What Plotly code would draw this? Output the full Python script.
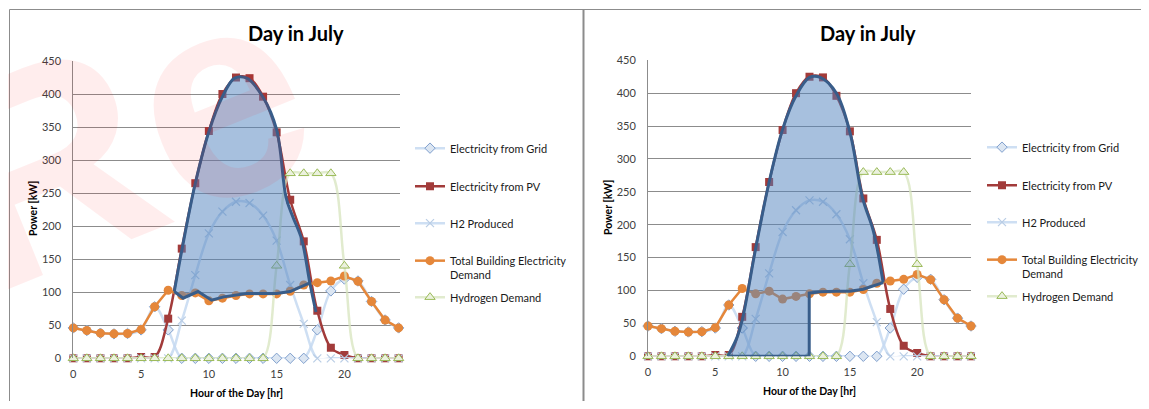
import plotly.graph_objects as go

# page is 1149x409; the browser body adds an 8px margin, so the figure is 1133x393
PAGE_W, PAGE_H, BODY = 1149, 409, 8
W, H = PAGE_W - 2 * BODY, PAGE_H - 2 * BODY


def px(xp):
    return (xp - BODY) / W


def py(yp):
    return 1 - (yp - BODY) / H


# ---------------- data ----------------
hours = list(range(25))
electricity_from_grid = [46, 42, 38, 37, 37.5, 43, 78, 43, 0, 0, 0, 0, 0, 0, 0, 0, 0, 0,
                         43, 102, 120, 117, 86, 58, 46]
electricity_from_pv = [0, 0, 0, 0, 0, 2, 2, 60, 166, 265, 344, 400, 425, 424, 396, 342, 240,
                       177, 72, 16, 5, 0, 0, 0, 0]
h2_produced = [0, 0, 0, 0, 0, 0, 0, 0, 57, 126, 189, 222, 237, 235, 216, 178, 111, 52,
               0, 0, 0, 0, 0, 0, 0]
building_demand = [46, 42, 38, 37, 37.5, 43.5, 78, 103, 95, 99, 87, 91, 95, 97.5, 97.5, 97.5,
                   101.5, 111, 114.5, 117, 124.5, 116.5, 86, 58, 46]
hydrogen_demand = [0, 0, 0, 0, 0, 0, 0, 0, 0, 0, 0, 0, 0, 0, 0, 140, 280, 280, 280, 280, 140,
                   0, 0, 0, 0]

series_names = ["Electricity from Grid", "Electricity from PV", "H2 Produced",
                "Total Building Electricity<br>Demand", "Hydrogen Demand"]

x_tick_vals = [0, 5, 10, 15, 20]
y_tick_vals = [0, 50, 100, 150, 200, 250, 300, 350, 400, 450]

chart_title = "Day in July"
x_title = "Hour of the Day [hr]"
y_title = "Power [kW]"

# shaded PV-surplus outline, left chart
surplus_left_upper_x = [7.45, 8, 9, 10, 11, 11.9, 12.8, 14, 15, 15.7, 16.2, 16.85, 17.45, 17.9]
surplus_left_upper_y = [101, 163, 265, 343, 396, 424, 424, 395, 346, 243, 214, 180, 114, 70]
surplus_left_lower_x = [7.45, 8.1, 9.2, 10.2, 11.1, 12.8, 15.0, 16.0, 17.45]
surplus_left_lower_y = [101, 91, 101, 88, 93, 98, 98, 101, 114]

# shaded outline, right chart
surplus_right_upper_x = [5.92, 6.6, 7.0, 8, 9, 10, 11, 12, 12.8, 14, 15, 15.95, 16.75, 17.47]
surplus_right_upper_y = [0, 28, 55, 164, 265, 345, 396, 424, 424, 400, 341, 240, 190, 112]
surplus_right_lower_x = [5.92, 11.98, 11.98, 12.8, 14, 15, 16, 17.47]
surplus_right_lower_y = [0, 0, 96, 98, 99, 99, 102, 112]

# ---------------- styles ----------------
FONT = "Lato"
series_values = [electricity_from_grid, electricity_from_pv, h2_produced,
                 building_demand, hydrogen_demand]
series_style = [
    dict(line=dict(color="rgba(198,217,241,0.85)", width=2.5, shape="spline"),
         marker=dict(symbol="diamond", size=8, color="#DCE6F2",
                     line=dict(color="#7F9FCD", width=1))),
    dict(line=dict(color="#A23B3A", width=2.5, shape="spline"),
         marker=dict(symbol="square", size=8, color="#A23B3A")),
    dict(line=dict(color="rgba(198,217,241,0.85)", width=2.5, shape="spline"),
         marker=dict(symbol="x-thin", size=8, color="#B9CDE5",
                     line=dict(color="#B9CDE5", width=1.2))),
    dict(line=dict(color="#E5873A", width=2.5),
         marker=dict(symbol="circle", size=9, color="#E5873A")),
    dict(line=dict(color="rgba(215,228,189,0.75)", width=2.5, shape="spline"),
         marker=dict(symbol="triangle-up", size=9, color="#EBF1DE",
                     line=dict(color="#9BBB59", width=1))),
]

panels = [
    dict(xa="x", ya="y", xdom=(73.3, 400.0), ydom=(61.0, 358.3), xrange=[0, 24.1],
         upper=(surplus_left_upper_x, surplus_left_upper_y),
         lower=(surplus_left_lower_x, surplus_left_lower_y),
         legends=["legend", "legend2", "legend3", "legend4", "legend5"],
         text_x=450, leg_y=[149, 187, 224, 268, 298],
         title_c=296, ytitle_x=33, ytitle_y=209, xtitle_x=236, xtitle_y=393),
    dict(xa="x2", ya="y2", xdom=(648.0, 971.0), ydom=(60.3, 356.3), xrange=[0, 24.0],
         upper=(surplus_right_upper_x, surplus_right_upper_y),
         lower=(surplus_right_lower_x, surplus_right_lower_y),
         legends=["legend6", "legend7", "legend8", "legend9", "legend10"],
         text_x=1022, leg_y=[148, 186, 223, 267, 297],
         title_c=868, ytitle_x=608, ytitle_y=208, xtitle_x=809, xtitle_y=391),
]

fig = go.Figure()
annotations = []
layout_extra = {}

for pi, p in enumerate(panels):
    for si in range(5):
        st = series_style[si]
        fig.add_trace(go.Scatter(
            x=hours, y=series_values[si], name=series_names[si], mode="lines+markers",
            line=st["line"], marker=st["marker"], xaxis=p["xa"], yaxis=p["ya"],
            legend=p["legends"][si], showlegend=True, cliponaxis=False,
            hoverinfo="skip"))
    # shaded surplus region
    fig.add_trace(go.Scatter(
        x=p["lower"][0], y=p["lower"][1], mode="lines",
        line=dict(color="#385D8A", width=3), xaxis=p["xa"], yaxis=p["ya"],
        showlegend=False, cliponaxis=False, hoverinfo="skip"))
    fig.add_trace(go.Scatter(
        x=p["upper"][0], y=p["upper"][1], mode="lines",
        line=dict(color="#385D8A", width=3, shape="spline", smoothing=1),
        fill="tonexty", fillcolor="rgba(79,129,189,0.5)",
        xaxis=p["xa"], yaxis=p["ya"], showlegend=False, cliponaxis=False,
        hoverinfo="skip"))

    xk = "xaxis" if pi == 0 else "xaxis2"
    yk = "yaxis" if pi == 0 else "yaxis2"
    layout_extra[xk] = dict(
        domain=[px(p["xdom"][0]), px(p["xdom"][1])], range=p["xrange"],
        anchor=p["ya"], tickvals=x_tick_vals, ticktext=[str(v) for v in x_tick_vals],
        showgrid=False, zeroline=False, showline=False, ticks="",
        ticklabelstandoff=8,
        tickfont=dict(family=FONT, size=11, color="#404040"))
    layout_extra[yk] = dict(
        domain=[py(p["ydom"][1]), py(p["ydom"][0])], range=[0, 450],
        anchor=p["xa"], tickvals=y_tick_vals, ticktext=[str(v) for v in y_tick_vals],
        showgrid=True, gridcolor="#8C8C8C", gridwidth=1, zeroline=False,
        showline=True, linecolor="#8C8C8C", linewidth=1, ticks="",
        ticklabelstandoff=9,
        tickfont=dict(family=FONT, size=11, color="#404040"))

    for li, lname in enumerate(p["legends"]):
        layout_extra[lname] = dict(
            x=px(p["text_x"] - 40), xanchor="left",
            y=py(p["leg_y"][li]), yanchor="middle",
            bgcolor="rgba(0,0,0,0)", borderwidth=0, valign="top",
            itemwidth=30, tracegroupgap=0,
            font=dict(family=FONT, size=11, color="#1A1A1A"))

    annotations += [
        dict(text="<b>" + chart_title + "</b>", x=px(p["title_c"]), y=py(33),
             xref="paper", yref="paper", showarrow=False, xanchor="center",
             yanchor="middle", font=dict(family=FONT, size=20, color="#000000")),
        dict(text="<b>" + y_title + "</b>", x=px(p["ytitle_x"]), y=py(p["ytitle_y"]),
             xref="paper", yref="paper", showarrow=False, textangle=-90,
             xanchor="center", yanchor="middle",
             font=dict(family=FONT, size=10.5, color="#000000")),
        dict(text="<b>" + x_title + "</b>", x=px(p["xtitle_x"]), y=py(p["xtitle_y"]),
             xref="paper", yref="paper", showarrow=False, xanchor="center",
             yanchor="middle", font=dict(family=FONT, size=10.5, color="#000000")),
    ]

# faint watermark
annotations.append(dict(
    text="<b>Re</b>", x=px(120), y=py(135), xref="paper", yref="paper",
    showarrow=False, textangle=-22, xanchor="center", yanchor="middle",
    font=dict(family="Liberation Sans", size=290, color="rgba(255,0,0,0.07)")))

frame = dict(type="line", xref="paper", yref="paper", line=dict(color="#8C8C8C", width=1))
shapes = [
    dict(frame, x0=px(9.5), x1=1.0, y0=py(9.5), y1=py(9.5)),
    dict(frame, x0=px(9.5), x1=px(9.5), y0=0, y1=py(9.5)),
    dict(frame, x0=px(583.5), x1=px(583.5), y0=0, y1=py(9.5),
         line=dict(color="#8C8C8C", width=2)),
]

fig.update_layout(
    width=W, height=H, margin=dict(l=0, r=0, t=0, b=0, autoexpand=False),
    paper_bgcolor="white", plot_bgcolor="white",
    annotations=annotations, shapes=shapes, hovermode=False,
    **layout_extra)

fig.write_html("out.html")
